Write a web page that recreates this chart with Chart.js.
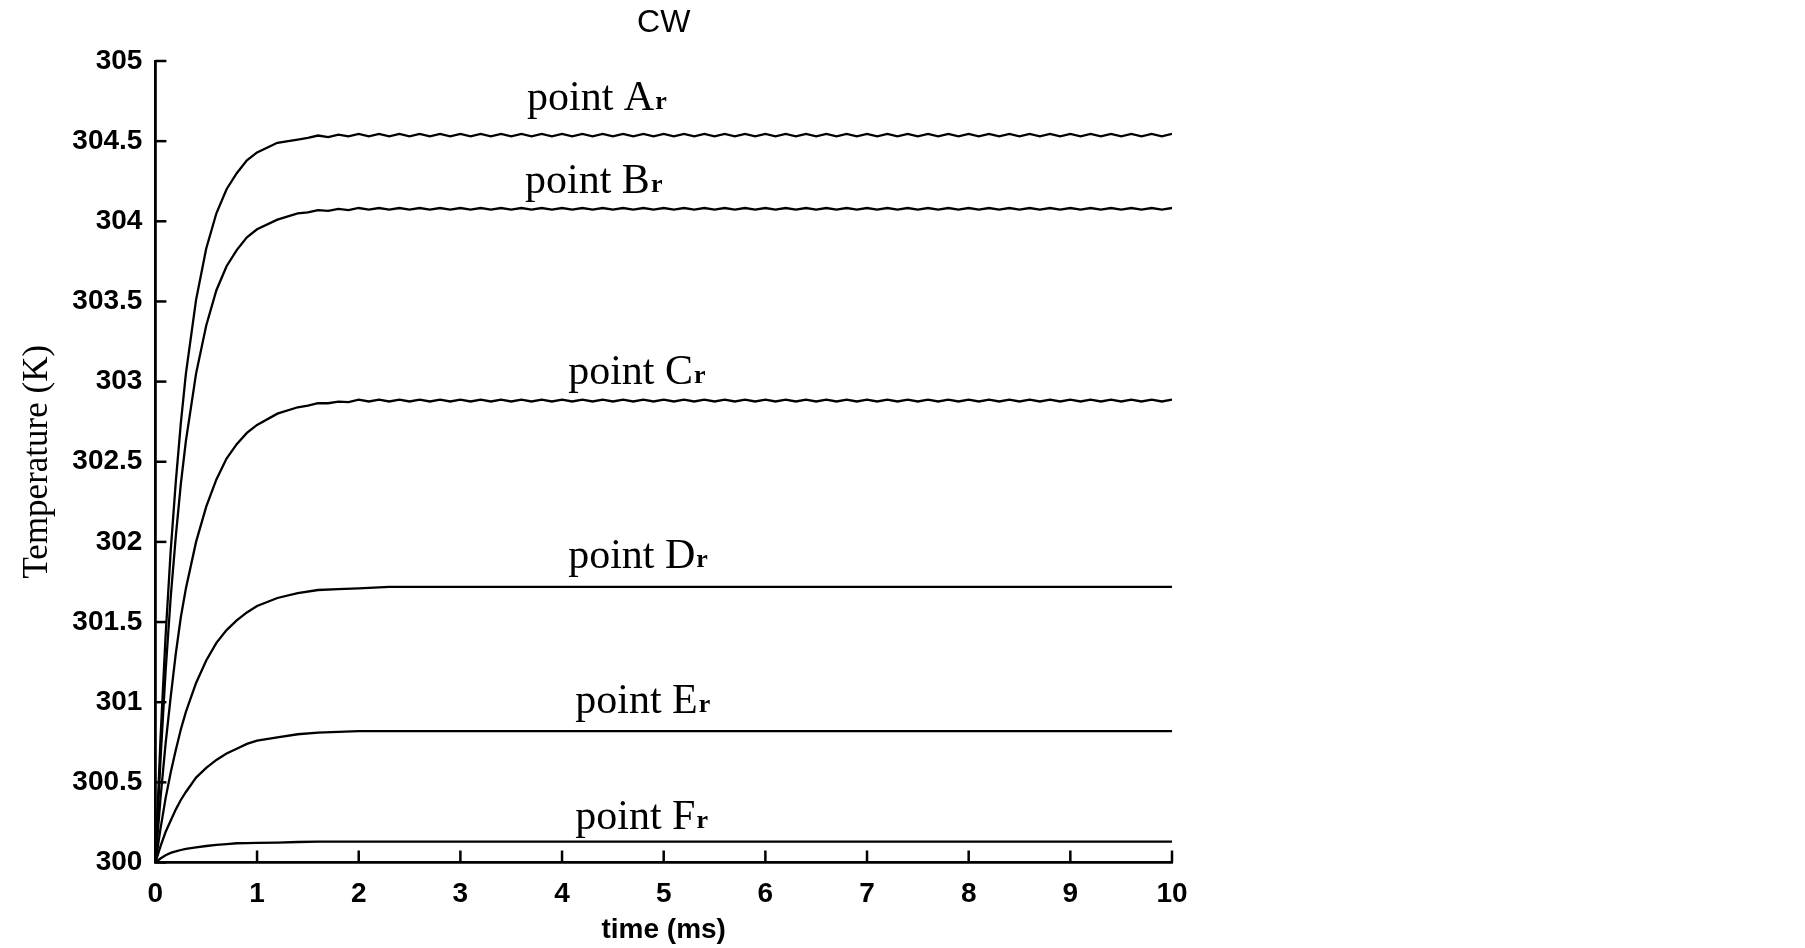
<!DOCTYPE html>
<html><head><meta charset="utf-8">
<script src="https://cdn.jsdelivr.net/npm/chart.js@4/dist/chart.umd.min.js"></script>
<style>html,body{margin:0;padding:0;background:#fff;overflow:hidden}</style>
</head><body>
<canvas id="c" width="1805" height="948"></canvas>
<script>
// ---- data ----
const timeRipple = [0,0.05,0.1,0.15,0.2,0.25,0.3,0.4,0.5,0.6,0.7,0.8,0.9,1.0,1.2,1.4,
1.5,1.6,1.7,1.8,1.9,
2.0,2.1,2.2,2.3,2.4,2.5,2.6,2.7,2.8,2.9,
3.0,3.1,3.2,3.3,3.4,3.5,3.6,3.7,3.8,3.9,
4.0,4.1,4.2,4.3,4.4,4.5,4.6,4.7,4.8,4.9,
5.0,5.1,5.2,5.3,5.4,5.5,5.6,5.7,5.8,5.9,
6.0,6.1,6.2,6.3,6.4,6.5,6.6,6.7,6.8,6.9,
7.0,7.1,7.2,7.3,7.4,7.5,7.6,7.7,7.8,7.9,
8.0,8.1,8.2,8.3,8.4,8.5,8.6,8.7,8.8,8.9,
9.0,9.1,9.2,9.3,9.4,9.5,9.6,9.7,9.8,9.9,
10.0];

const pointA = [300,300.77,301.41,301.94,302.37,302.74,303.05,303.51,303.83,304.05,304.20,304.30,304.38,304.43,304.49,304.51,
304.52,304.535,304.525,304.54,304.53,
304.545,304.53,304.545,304.53,304.545,304.53,304.545,304.53,304.545,304.53,
304.545,304.53,304.545,304.53,304.545,304.53,304.545,304.53,304.545,304.53,
304.545,304.53,304.545,304.53,304.545,304.53,304.545,304.53,304.545,304.53,
304.545,304.53,304.545,304.53,304.545,304.53,304.545,304.53,304.545,304.53,
304.545,304.53,304.545,304.53,304.545,304.53,304.545,304.53,304.545,304.53,
304.545,304.53,304.545,304.53,304.545,304.53,304.545,304.53,304.545,304.53,
304.545,304.53,304.545,304.53,304.545,304.53,304.545,304.53,304.545,304.53,
304.545,304.53,304.545,304.53,304.545,304.53,304.545,304.53,304.545,304.53,
304.545];

const pointB = [300,300.64,301.19,301.65,302.03,302.36,302.63,303.05,303.35,303.57,303.72,303.82,303.90,303.95,304.01,304.05,
304.055,304.07,304.065,304.078,304.07,
304.083,304.073,304.083,304.073,304.083,304.073,304.083,304.073,304.083,304.073,
304.083,304.073,304.083,304.073,304.083,304.073,304.083,304.073,304.083,304.073,
304.083,304.073,304.083,304.073,304.083,304.073,304.083,304.073,304.083,304.073,
304.083,304.073,304.083,304.073,304.083,304.073,304.083,304.073,304.083,304.073,
304.083,304.073,304.083,304.073,304.083,304.073,304.083,304.073,304.083,304.073,
304.083,304.073,304.083,304.073,304.083,304.073,304.083,304.073,304.083,304.073,
304.083,304.073,304.083,304.073,304.083,304.073,304.083,304.073,304.083,304.073,
304.083,304.073,304.083,304.073,304.083,304.073,304.083,304.073,304.083,304.073,
304.083];

const pointC = [300,300.40,300.74,301.03,301.30,301.53,301.71,302.00,302.22,302.39,302.52,302.61,302.68,302.73,302.80,302.84,
302.85,302.865,302.865,302.875,302.872,
302.888,302.876,302.888,302.876,302.888,302.876,302.888,302.876,302.888,302.876,
302.888,302.876,302.888,302.876,302.888,302.876,302.888,302.876,302.888,302.876,
302.888,302.876,302.888,302.876,302.888,302.876,302.888,302.876,302.888,302.876,
302.888,302.876,302.888,302.876,302.888,302.876,302.888,302.876,302.888,302.876,
302.888,302.876,302.888,302.876,302.888,302.876,302.888,302.876,302.888,302.876,
302.888,302.876,302.888,302.876,302.888,302.876,302.888,302.876,302.888,302.876,
302.888,302.876,302.888,302.876,302.888,302.876,302.888,302.876,302.888,302.876,
302.888,302.876,302.888,302.876,302.888,302.876,302.888,302.876,302.888,302.876,
302.888];

const timeSmooth = [0,0.05,0.1,0.15,0.2,0.25,0.3,0.4,0.5,0.6,0.7,0.8,0.9,1.0,1.2,1.4,1.6,1.8,2.0,2.3,10];
const pointD = [300,300.21,300.40,300.56,300.70,300.83,300.94,301.12,301.26,301.37,301.45,301.51,301.56,301.60,301.65,301.68,301.70,301.705,301.71,301.72,301.72];
const pointE = [300,300.10,300.19,300.26,300.33,300.39,300.44,300.53,300.59,300.64,300.68,300.71,300.74,300.76,300.78,300.80,300.81,300.815,300.82,300.82,300.82];
const pointF = [300,300.025,300.045,300.06,300.07,300.078,300.085,300.095,300.103,300.11,300.115,300.12,300.121,300.122,300.124,300.128,300.13,300.13,300.13,300.13,300.13];

const seriesNames = ['A','B','C','D','E','F'];
const xTickValues = [0,1,2,3,4,5,6,7,8,9,10];
const xTickLabels = ['0','1','2','3','4','5','6','7','8','9','10'];
const yTickValues = [300,300.5,301,301.5,302,302.5,303,303.5,304,304.5,305];
const yTickLabels = ['300','300.5','301','301.5','302','302.5','303','303.5','304','304.5','305'];

// ---- build datasets ----
function pairs(ts, vs){ return ts.map((t,i)=>({x:t, y:vs[i]})); }
const seriesData = [pairs(timeRipple,pointA), pairs(timeRipple,pointB), pairs(timeRipple,pointC),
                    pairs(timeSmooth,pointD), pairs(timeSmooth,pointE), pairs(timeSmooth,pointF)];
const datasets = seriesNames.map((n,i)=>({
  label:'point '+n+'r', data:seriesData[i], borderColor:'#000', backgroundColor:'#000',
  borderWidth:2.3, pointRadius:0, tension:0, fill:false
}));

// label anchors in data coordinates (time, temperature) for curve names
const labelAnchors = [
  {name:'A', t:3.655, v:304.694},
  {name:'B', t:3.636, v:304.177},
  {name:'C', t:4.06,  v:302.985},
  {name:'D', t:4.06,  v:301.837},
  {name:'E', t:4.13,  v:300.933},
  {name:'F', t:4.13,  v:300.209}
];

const inwardTicks = {
  id:'inwardTicks',
  afterDraw(chart){
    const {ctx, chartArea} = chart;
    const xs = chart.scales.x, ys = chart.scales.y;
    ctx.save(); ctx.strokeStyle='#000'; ctx.lineWidth=2.5;
    xs.ticks.forEach(t=>{const p=xs.getPixelForValue(t.value); ctx.beginPath(); ctx.moveTo(p,chartArea.bottom); ctx.lineTo(p,chartArea.bottom-12); ctx.stroke();});
    ys.ticks.forEach(t=>{const p=ys.getPixelForValue(t.value); ctx.beginPath(); ctx.moveTo(chartArea.left,p); ctx.lineTo(chartArea.left+11,p); ctx.stroke();});
    ctx.restore();
  }
};

const curveLabels = {
  id:'curveLabels',
  afterDatasetsDraw(chart){
    const {ctx} = chart; const xs=chart.scales.x, ys=chart.scales.y;
    ctx.save(); ctx.fillStyle='#000'; ctx.textBaseline='alphabetic'; ctx.textAlign='left';
    labelAnchors.forEach(it=>{
      const px=xs.getPixelForValue(it.t), py=ys.getPixelForValue(it.v);
      const main='point '+it.name;
      ctx.font='42px "Liberation Serif"';
      ctx.fillText(main,px,py);
      const w=ctx.measureText(main).width;
      ctx.font='bold 26px "Liberation Serif"';
      ctx.fillText('r',px+w+1,py-1);
    });
    ctx.restore();
  }
};

new Chart(document.getElementById('c'), {
  type:'line',
  data:{datasets},
  options:{
    responsive:false, animation:false, devicePixelRatio:1,
    layout:{padding:{left:0,right:633,top:0,bottom:0}},
    plugins:{
      legend:{display:false}, tooltip:{enabled:false},
      title:{display:true, text:'CW', fullSize:false, color:'#000',
        font:{family:'Liberation Sans', size:32, weight:'normal'}, padding:{top:4,bottom:18.6}}
    },
    scales:{
      x:{type:'linear', min:0, max:10,
        afterBuildTicks:s=>{s.ticks=xTickValues.map(v=>({value:v}));},
        afterFit:s=>{s.height=85.5;},
        ticks:{callback:(v,i)=>xTickLabels[i], color:'#000', font:{family:'Liberation Sans', size:28, weight:'bold'}, padding:15, maxRotation:0, autoSkip:false},
        grid:{display:false, drawTicks:false},
        border:{display:true, color:'#000', width:2.8},
        title:{display:true, text:'time (ms)', color:'#000', font:{family:'Liberation Sans', size:28, weight:'bold'}, padding:{top:0,bottom:1}}
      },
      y:{type:'linear', min:300, max:305,
        afterBuildTicks:s=>{s.ticks=yTickValues.map(v=>({value:v}));},
        afterFit:s=>{s.width=155.4;},
        ticks:{callback:(v,i)=>yTickLabels[i], color:'#000', font:{family:'Liberation Sans', size:28, weight:'bold'}, padding:13, autoSkip:false},
        grid:{display:false, drawTicks:false},
        border:{display:true, color:'#000', width:2.8},
        title:{display:true, text:'Temperature (K)', color:'#000', font:{family:'Liberation Serif', size:35}, padding:{top:17,bottom:0}}
      }
    }
  },
  plugins:[inwardTicks, curveLabels]
});
</script>
</body></html>
